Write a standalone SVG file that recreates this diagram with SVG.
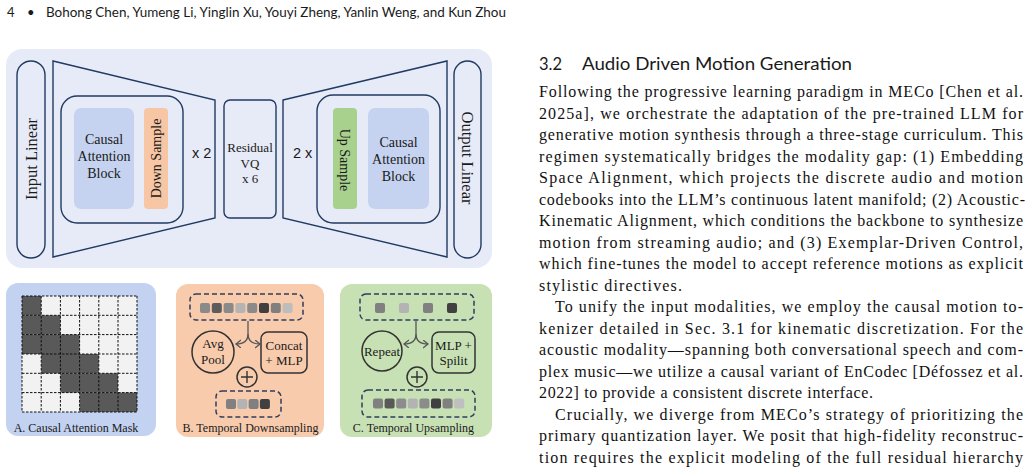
<svg xmlns="http://www.w3.org/2000/svg" width="1032" height="468" viewBox="0 0 1032 468">
<defs>
<style>
.nv{fill:none;stroke:#203a63;stroke-width:1.4}
.ser{font-family:"Liberation Serif","Times New Roman",serif;fill:#1a1a1a}
.sans{font-family:"Liberation Sans",Arial,sans-serif;fill:#1a1a1a}
.hum{font-family:Lato,"Open Sans","Liberation Sans",sans-serif;fill:#1a1a1a}
.body{font-family:"Liberation Serif","Times New Roman",serif;font-size:16px;fill:#111}
.dash{fill:none;stroke:#2f3e5c;stroke-width:1.5;stroke-dasharray:5 3}
.blk{fill:none;stroke:#333;stroke-width:1.5}
.fork{fill:none;stroke:#555;stroke-width:1.3}
.grid{stroke:#111;stroke-width:1;stroke-dasharray:2.5 1.5;fill:none}
.d{fill:#595959}.l{fill:#f2f2f2}
</style>
<marker id="chev" markerUnits="userSpaceOnUse" markerWidth="10" markerHeight="10" refX="5" refY="4" orient="auto">
<path d="M0,0 L5,4 L0,8" fill="none" stroke="#555" stroke-width="1.3"/>
</marker>
</defs>
<rect width="1032" height="468" fill="#ffffff"/>

<g id="header">
<text class="hum" x="7" y="17" font-size="13">4</text>
<text class="hum" x="27" y="17" font-size="13">•</text>
<text class="hum" x="46" y="17" font-size="13" textLength="460" lengthAdjust="spacingAndGlyphs">Bohong Chen, Yumeng Li, Yinglin Xu, Youyi Zheng, Yanlin Weng, and Kun Zhou</text>
</g>

<g id="encoder-decoder">
<rect x="6" y="49" width="486" height="219" rx="16" fill="#e7ebf7"/>
<g id="input-linear">
<rect x="17" y="61" width="28" height="197" rx="14" class="nv"/>
<text class="ser" font-size="16.5" text-anchor="middle" transform="translate(31,159) rotate(-90)" x="0" y="5.5">Input Linear</text>
</g>
<g id="encoder">
<polygon points="53,61 215,100 215,218 53,257" class="nv"/>
<rect x="61" y="96" width="122" height="127" rx="16" class="nv"/>
<rect x="74" y="108" width="60" height="101" rx="7" fill="#c5d3f0"/>
<text class="ser" font-size="14" text-anchor="middle" x="104" y="144">Causal</text>
<text class="ser" font-size="14" text-anchor="middle" x="104" y="161">Attention</text>
<text class="ser" font-size="14" text-anchor="middle" x="104" y="178">Block</text>
<rect x="144" y="108" width="24" height="101" rx="4" fill="#f7c7a5"/>
<text class="ser" font-size="14" text-anchor="middle" transform="translate(156,158.5) rotate(-90)" x="0" y="5">Down Sample</text>
<text class="sans" font-size="14.5" x="192" y="157.5">x 2</text>
</g>
<g id="residual-vq">
<rect x="224" y="100" width="52" height="118" rx="6" class="nv"/>
<text class="ser" font-size="13" text-anchor="middle" x="250" y="152">Residual</text>
<text class="ser" font-size="13" text-anchor="middle" x="250" y="168">VQ</text>
<text class="ser" font-size="13" text-anchor="middle" x="250" y="183">x 6</text>
</g>
<g id="decoder">
<polygon points="283,100 447,61 447,257 283,218" class="nv"/>
<text class="sans" font-size="14.5" x="293" y="158">2 x</text>
<rect x="317" y="95" width="123" height="128" rx="16" class="nv"/>
<rect x="333" y="108" width="24" height="101" rx="4" fill="#a9d18e"/>
<text class="ser" font-size="14" text-anchor="middle" transform="translate(345,160) rotate(90)" x="0" y="5">Up Sample</text>
<rect x="368" y="108" width="61" height="101" rx="7" fill="#c5d3f0"/>
<text class="ser" font-size="14" text-anchor="middle" x="398.5" y="147">Causal</text>
<text class="ser" font-size="14" text-anchor="middle" x="398.5" y="164">Attention</text>
<text class="ser" font-size="14" text-anchor="middle" x="398.5" y="181">Block</text>
</g>
<g id="output-linear">
<rect x="454" y="61" width="27" height="197" rx="13.5" class="nv"/>
<text class="ser" font-size="16.5" text-anchor="middle" transform="translate(467.5,158) rotate(90)" x="0" y="5.5">Output Linear</text>
</g>
</g>

<g id="panel-a">
<rect x="6" y="283" width="150" height="153" rx="12" fill="#c3d2f0"/>
<g>
<rect x="22" y="296" width="115" height="116" class="l"/>
<rect x="22" y="296" width="19.2" height="19.3" class="d"/>
<rect x="22" y="315.3" width="38.4" height="19.3" class="d"/>
<rect x="22" y="334.6" width="57.6" height="19.4" class="d"/>
<rect x="41.2" y="354" width="57.6" height="19.3" class="d"/>
<rect x="60.4" y="373.3" width="57.6" height="19.3" class="d"/>
<rect x="79.6" y="392.6" width="57.4" height="19.4" class="d"/>
<path class="grid" d="M22,296 H137 M22,315.3 H137 M22,334.6 H137 M22,354 H137 M22,373.3 H137 M22,392.6 H137 M22,412 H137 M22,296 V412 M41.2,296 V412 M60.4,296 V412 M79.6,296 V412 M98.8,296 V412 M118,296 V412 M137,296 V412"/>
</g>
<text class="ser" font-size="12" text-anchor="middle" x="76" y="432">A. Causal Attention Mask</text>
</g>

<g id="panel-b">
<rect x="176" y="284" width="148" height="153" rx="12" fill="#f8cbad"/>
<g id="b-input">
<rect x="190" y="294" width="113" height="26" rx="6" class="dash"/>
<rect x="200" y="303" width="10" height="10" rx="2" fill="#8a8a8a"/>
<rect x="211.8" y="303" width="10" height="10" rx="2" fill="#5c5c5c"/>
<rect x="223.6" y="303" width="10" height="10" rx="2" fill="#8a8a8a"/>
<rect x="235.4" y="303" width="10" height="10" rx="2" fill="#b4b4b4"/>
<rect x="247.2" y="303" width="10" height="10" rx="2" fill="#8a8a8a"/>
<rect x="259" y="303" width="10" height="10" rx="2" fill="#3f3f3f"/>
<rect x="270.8" y="303" width="10" height="10" rx="2" fill="#7f7f7f"/>
<rect x="282.6" y="303" width="10" height="10" rx="2" fill="#bdbdbd"/>
</g>
<g id="avg-pool">
<circle cx="213" cy="352" r="21" class="blk"/>
<text class="ser" font-size="13" text-anchor="middle" x="213" y="347.5">Avg</text>
<text class="ser" font-size="13" text-anchor="middle" x="213" y="364">Pool</text>
</g>
<g id="concat-mlp">
<rect x="261" y="332" width="46" height="41" rx="7" class="blk"/>
<text class="ser" font-size="13" text-anchor="middle" x="284" y="349.5">Concat</text>
<text class="ser" font-size="13" text-anchor="middle" x="284" y="364.5">+ MLP</text>
</g>
<g id="b-plus">
<circle cx="247" cy="377" r="10" class="blk"/>
<path d="M241,377 H253 M247,371 V383" stroke="#333" stroke-width="1.4"/>
</g>
<g id="b-output">
<rect x="216" y="391" width="65" height="26" rx="6" class="dash"/>
<rect x="226" y="399" width="10" height="10" rx="2" fill="#808080"/>
<rect x="237.3" y="399" width="10" height="10" rx="2" fill="#b3b3b3"/>
<rect x="248.6" y="399" width="10" height="10" rx="2" fill="#808080"/>
<rect x="259.9" y="399" width="10" height="10" rx="2" fill="#404040"/>
</g>
<text class="ser" font-size="12" text-anchor="middle" x="250.5" y="432">B. Temporal Downsampling</text>
</g>

<g id="panel-c">
<rect x="340" y="284" width="152" height="153" rx="12" fill="#c7e1b5"/>
<g id="c-input">
<rect x="360" y="294" width="114" height="26" rx="6" class="dash"/>
<rect x="375" y="303" width="10" height="10" rx="2" fill="#808080"/>
<rect x="399" y="303" width="10" height="10" rx="2" fill="#b3b3b3"/>
<rect x="423" y="303" width="10" height="10" rx="2" fill="#808080"/>
<rect x="447" y="303" width="10" height="10" rx="2" fill="#404040"/>
</g>
<g id="repeat">
<circle cx="382" cy="351" r="20" class="blk"/>
<text class="ser" font-size="13" text-anchor="middle" x="382" y="355.5">Repeat</text>
</g>
<g id="mlp-split">
<rect x="432" y="332" width="43" height="41" rx="7" class="blk"/>
<text class="ser" font-size="13" text-anchor="middle" x="453.5" y="349.5">MLP +</text>
<text class="ser" font-size="13" text-anchor="middle" x="453.5" y="365">Spilit</text>
</g>
<g id="c-plus">
<circle cx="417" cy="377" r="10" class="blk"/>
<path d="M411,377 H423 M417,371 V383" stroke="#333" stroke-width="1.4"/>
</g>
<g id="c-output">
<rect x="362" y="390" width="113" height="27" rx="6" class="dash"/>
<rect x="373" y="398.5" width="10" height="10" rx="2" fill="#808080"/>
<rect x="384.6" y="398.5" width="10" height="10" rx="2" fill="#595959"/>
<rect x="396.2" y="398.5" width="10" height="10" rx="2" fill="#8c8c8c"/>
<rect x="407.8" y="398.5" width="10" height="10" rx="2" fill="#b3b3b3"/>
<rect x="419.4" y="398.5" width="10" height="10" rx="2" fill="#8c8c8c"/>
<rect x="431" y="398.5" width="10" height="10" rx="2" fill="#404040"/>
<rect x="442.6" y="398.5" width="10" height="10" rx="2" fill="#808080"/>
<rect x="454.2" y="398.5" width="10" height="10" rx="2" fill="#bfbfbf"/>
</g>
<text class="ser" font-size="12" text-anchor="middle" x="413.5" y="432">C. Temporal Upsampling</text>
</g>

<g id="connectors">
<path class="fork" d="M248,321 V334"/>
<path class="fork" d="M248,334 C248,341 244,344 236,344" marker-end="url(#chev)"/>
<path class="fork" d="M248,334 C248,341 252,344 260,344" marker-end="url(#chev)"/>
<path class="fork" d="M416,321 V334"/>
<path class="fork" d="M416,334 C416,341 412,344 404,344" marker-end="url(#chev)"/>
<path class="fork" d="M416,334 C416,341 420,344 428,344" marker-end="url(#chev)"/>
</g>

<g id="section-text">
<text class="hum" font-size="16.5" x="539" y="69.5">3.2</text>
<text class="hum" font-size="16.5" x="582" y="69.5" textLength="270" lengthAdjust="spacingAndGlyphs">Audio Driven Motion Generation</text>
<text class="body" x="539" y="97" textLength="484" lengthAdjust="spacing">Following the progressive learning paradigm in MECo [Chen et al.</text>
<text class="body" x="539" y="118.5" textLength="484" lengthAdjust="spacing">2025a], we orchestrate the adaptation of the pre-trained LLM for</text>
<text class="body" x="539" y="140" textLength="484" lengthAdjust="spacing">generative motion synthesis through a three-stage curriculum. This</text>
<text class="body" x="539" y="161.5" textLength="484" lengthAdjust="spacing">regimen systematically bridges the modality gap: (1) Embedding</text>
<text class="body" x="539" y="183" textLength="484" lengthAdjust="spacing">Space Alignment, which projects the discrete audio and motion</text>
<text class="body" x="539" y="204.5" textLength="486" lengthAdjust="spacing">codebooks into the LLM’s continuous latent manifold; (2) Acoustic-</text>
<text class="body" x="539" y="226" textLength="484" lengthAdjust="spacing">Kinematic Alignment, which conditions the backbone to synthesize</text>
<text class="body" x="539" y="247.5" textLength="484" lengthAdjust="spacing">motion from streaming audio; and (3) Exemplar-Driven Control,</text>
<text class="body" x="539" y="269" textLength="484" lengthAdjust="spacing">which fine-tunes the model to accept reference motions as explicit</text>
<text class="body" x="539" y="290.5" textLength="143" lengthAdjust="spacing">stylistic directives.</text>
<text class="body" x="555" y="312" textLength="468" lengthAdjust="spacing">To unify the input modalities, we employ the causal motion to-</text>
<text class="body" x="539" y="333.5" textLength="484" lengthAdjust="spacing">kenizer detailed in Sec. 3.1 for kinematic discretization. For the</text>
<text class="body" x="539" y="355" textLength="484" lengthAdjust="spacing">acoustic modality—spanning both conversational speech and com-</text>
<text class="body" x="539" y="376.5" textLength="484" lengthAdjust="spacing">plex music—we utilize a causal variant of EnCodec [Défossez et al.</text>
<text class="body" x="539" y="398" textLength="334" lengthAdjust="spacing">2022] to provide a consistent discrete interface.</text>
<text class="body" x="555" y="419.5" textLength="468" lengthAdjust="spacing">Crucially, we diverge from MECo’s strategy of prioritizing the</text>
<text class="body" x="539" y="441" textLength="484" lengthAdjust="spacing">primary quantization layer. We posit that high-fidelity reconstruc-</text>
<text class="body" x="539" y="462.5" textLength="484" lengthAdjust="spacing">tion requires the explicit modeling of the full residual hierarchy</text>
</g>
</svg>
